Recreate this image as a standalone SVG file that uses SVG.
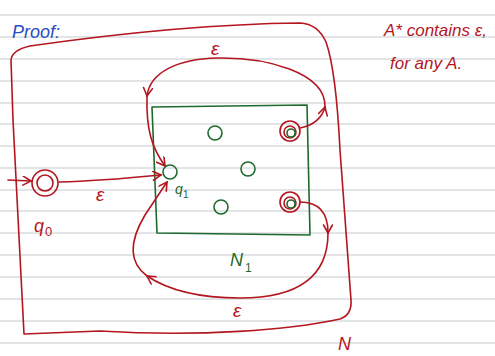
<svg xmlns="http://www.w3.org/2000/svg" width="495" height="356" viewBox="0 0 495 356">
<style>
.rule{stroke:#d9dbe0;stroke-width:1.5}
.red{stroke:#b3161f;fill:none;stroke-width:1.6;stroke-linecap:round;stroke-linejoin:round}
.grn{stroke:#1e6a2c;fill:none;stroke-width:1.6;stroke-linecap:round;stroke-linejoin:round}
.tr{fill:#b3161f;font-family:"Liberation Sans",Arial,sans-serif}
.tg{fill:#1e6a2c;font-family:"Liberation Sans",Arial,sans-serif}
.tb{fill:#2a4fc2;font-family:"Liberation Sans",Arial,sans-serif}
</style>
<defs>
<marker id="ah" markerUnits="userSpaceOnUse" markerWidth="12" markerHeight="12" refX="9" refY="5" orient="auto">
<path d="M1,0.5 L9,5 L1,9.5" fill="none" stroke="#b3161f" stroke-width="1.6" stroke-linecap="round"/>
</marker>
</defs>
<rect width="495" height="356" fill="#ffffff"/>
<g id="rules">
<line class="rule" x1="0" y1="15" x2="495" y2="15"/>
<line class="rule" x1="0" y1="37" x2="495" y2="37"/>
<line class="rule" x1="0" y1="59" x2="495" y2="59"/>
<line class="rule" x1="0" y1="81" x2="495" y2="81"/>
<line class="rule" x1="0" y1="103" x2="495" y2="103"/>
<line class="rule" x1="0" y1="124" x2="495" y2="124"/>
<line class="rule" x1="0" y1="146" x2="495" y2="146"/>
<line class="rule" x1="0" y1="168" x2="495" y2="168"/>
<line class="rule" x1="0" y1="190" x2="495" y2="190"/>
<line class="rule" x1="0" y1="211" x2="495" y2="211"/>
<line class="rule" x1="0" y1="233" x2="495" y2="233"/>
<line class="rule" x1="0" y1="255" x2="495" y2="255"/>
<line class="rule" x1="0" y1="277" x2="495" y2="277"/>
<line class="rule" x1="0" y1="299" x2="495" y2="299"/>
<line class="rule" x1="0" y1="321" x2="495" y2="321"/>
<line class="rule" x1="0" y1="343" x2="495" y2="343"/>
</g>
<text class="tb" x="12" y="38" font-size="18" font-style="italic">Proof:</text>
<text class="tr" x="384" y="36" font-size="17" font-style="italic">A* contains ε,</text>
<text class="tr" x="390" y="69" font-size="17" font-style="italic">for any A.</text>
<g id="N">
<path class="red" d="M11 60 Q12 50 30 46 C100 36 200 24 300 23 Q318 24 326 42 Q336 70 340 150 L351 300 Q352 315 340 319 C290 330 200 337 100 331 L24 334 Q20 250 13 120 Z"/>
<text class="tr" x="338" y="350" font-size="18" font-style="italic">N</text>
</g>
<g id="N1">
<path class="grn" d="M152 107 L307 105 L310 235 L157 233 Z"/>
<text class="tg" x="230" y="266" font-size="18" font-style="italic">N</text>
<text class="tg" x="245" y="272" font-size="12">1</text>
</g>
<g id="q0">
<circle class="red" cx="45" cy="183" r="13" stroke-width="2"/>
<circle class="red" cx="45" cy="183" r="8"/>
<text class="tr" x="34" y="232" font-size="18" font-style="italic">q</text>
<text class="tr" x="45" y="236" font-size="13">0</text>
</g>
<g id="q1">
<circle class="grn" cx="170" cy="172" r="7"/>
<text class="tg" x="175" y="194" font-size="14" font-style="italic">q</text>
<text class="tg" x="183" y="198" font-size="10">1</text>
</g>
<g id="s1"><circle class="grn" cx="215" cy="133" r="7"/></g>
<g id="s2"><circle class="grn" cx="248" cy="169" r="7"/></g>
<g id="s3"><circle class="grn" cx="221" cy="207" r="7"/></g>
<g id="f1">
<circle class="red" cx="290" cy="131" r="10" stroke-width="2.2"/>
<circle class="red" cx="290" cy="132" r="6"/>
<circle class="grn" cx="291" cy="133" r="4"/>
</g>
<g id="f2">
<circle class="red" cx="290" cy="202" r="10" stroke-width="2.2"/>
<circle class="red" cx="290" cy="203" r="6"/>
<circle class="grn" cx="291" cy="204" r="4"/>
</g>
<g id="connectors">
<path class="red" d="M8 180 L31 181" marker-end="url(#ah)"/>
<path class="red" d="M59 182 C100 181 130 178 161 175" marker-end="url(#ah)"/>
<text class="tr" x="96" y="201" font-size="19" font-style="italic">ε</text>
<path class="red" d="M300 128 C315 125 322 118 325 107" marker-end="url(#ah)"/>
<path class="red" d="M325 107 C326 72 265 57 217 58 C178 59 150 72 147 96" marker-end="url(#ah)"/>
<path class="red" d="M147 96 C146 130 152 148 165 166" marker-end="url(#ah)"/>
<text class="tr" x="211" y="55" font-size="19" font-style="italic">ε</text>
<path class="red" d="M300 202 C318 202 328 212 328 233" marker-end="url(#ah)"/>
<path class="red" d="M328 233 C328 282 290 298 240 298 C200 298 168 290 147 276" marker-end="url(#ah)"/>
<path class="red" d="M147 276 C128 262 130 240 145 215 L167 182" marker-end="url(#ah)"/>
<text class="tr" x="233" y="317" font-size="19" font-style="italic">ε</text>
</g>
</svg>
